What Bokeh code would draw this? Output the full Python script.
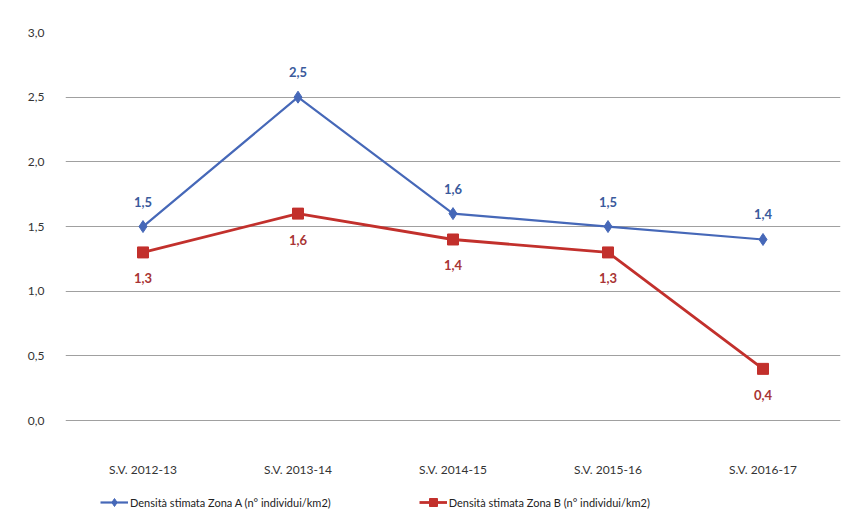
from bokeh.plotting import figure
from bokeh.layouts import column
from bokeh.models import (ColumnDataSource, LabelSet, FixedTicker, Legend, LegendItem, FactorRange,
                          Range1d, CustomJSTickFormatter)
from bokeh.core.properties import value
from bokeh.embed import file_html
from bokeh.resources import INLINE

seasons = ["S.V. 2012-13", "S.V. 2013-14", "S.V. 2014-15", "S.V. 2015-16", "S.V. 2016-17"]
zona_a = [1.5, 2.5, 1.6, 1.5, 1.4]
zona_b = [1.3, 1.6, 1.4, 1.3, 0.4]
y_ticks = [0, 0.5, 1.0, 1.5, 2.0, 2.5, 3.0]
label_a = "Densità stimata Zona A (n° individui/km2)"
label_b = "Densità stimata Zona B (n° individui/km2)"

FONT = "Lato"
BLUE = "#4668b8"
RED = "#c2302c"

src = ColumnDataSource(dict(
    x=seasons, a=zona_a, b=zona_b,
    la=[f"{v:.1f}".replace(".", ",") for v in zona_a],
    lb=[f"{v:.1f}".replace(".", ",") for v in zona_b],
))

p = figure(width=846, height=480, x_range=FactorRange(*seasons), y_range=Range1d(-0.03, 3.0),
           output_backend="svg", toolbar_location=None,
           min_border_left=65, min_border_right=6, min_border_top=32, min_border_bottom=56)
p.outline_line_color = None
p.background_fill_color = "white"
p.border_fill_color = "white"

p.xgrid.grid_line_color = None
p.ygrid.ticker = FixedTicker(ticks=y_ticks[:-1])
p.ygrid.grid_line_color = "#a0a0a0"
p.ygrid.grid_line_width = 1

p.yaxis.ticker = FixedTicker(ticks=y_ticks)
p.yaxis.formatter = CustomJSTickFormatter(code="return tick.toFixed(1).replace('.', ',');")
for ax in (p.xaxis, p.yaxis):
    ax.axis_line_color = None
    ax.major_tick_line_color = None
    ax.minor_tick_line_color = None
    ax.major_label_text_font = FONT
    ax.major_label_text_font_size = "12px"
    ax.major_label_text_color = "#333333"
p.yaxis.major_label_standoff = 15
p.xaxis.major_label_standoff = 31

p.line("x", "a", source=src, line_color=BLUE, line_width=2.2)
p.scatter("x", "a", source=src, marker="diamond", size=12, fill_color=BLUE, line_color=BLUE)
p.line("x", "b", source=src, line_color=RED, line_width=2.8)
p.scatter("x", "b", source=src, marker="square", size=11, fill_color=RED, line_color=RED)

p.add_layout(LabelSet(x="x", y="a", text="la", source=src, y_offset=25, text_align="center",
                      text_baseline="middle", text_font=value(FONT), text_font_size="13px",
                      text_font_style="bold", text_color="#3a5a9c"))
p.add_layout(LabelSet(x="x", y="b", text="lb", source=src, y_offset=-26, text_align="center",
                      text_baseline="middle", text_font=value(FONT), text_font_size="13px",
                      text_font_style="bold", text_color="#a83434"))

# legend strip below the chart
p2 = figure(width=846, height=40, x_range=Range1d(0, 1), y_range=Range1d(0, 1),
            x_axis_type=None, y_axis_type=None, output_backend="svg", toolbar_location=None,
            min_border_left=0, min_border_right=0, min_border_top=0, min_border_bottom=0)
p2.outline_line_color = None
p2.xgrid.visible = False
p2.ygrid.visible = False
hidden = ColumnDataSource(dict(x=[-10, -11], y=[-10, -11]))
ka = p2.line("x", "y", source=hidden, line_color=BLUE, line_width=2.2)
kas = p2.scatter("x", "y", source=hidden, marker="diamond", size=12, fill_color=BLUE, line_color=BLUE)
kb = p2.line("x", "y", source=hidden, line_color=RED, line_width=2.8)
kbs = p2.scatter("x", "y", source=hidden, marker="square", size=11, fill_color=RED, line_color=RED)

legend = Legend(items=[LegendItem(label=label_a, renderers=[ka, kas]),
                       LegendItem(label=label_b, renderers=[kb, kbs])],
                orientation="horizontal", location=(35, 8))
legend.border_line_color = None
legend.background_fill_alpha = 0
legend.label_text_font = FONT
legend.label_text_font_size = "11px"
legend.label_text_color = "#222222"
legend.glyph_width = 28
legend.label_standoff = 2
legend.spacing = 88
legend.margin = 0
legend.padding = 5
p2.add_layout(legend, "center")

layout = column(p, p2, spacing=0)
open("out.html", "w").write(file_html(layout, INLINE))
